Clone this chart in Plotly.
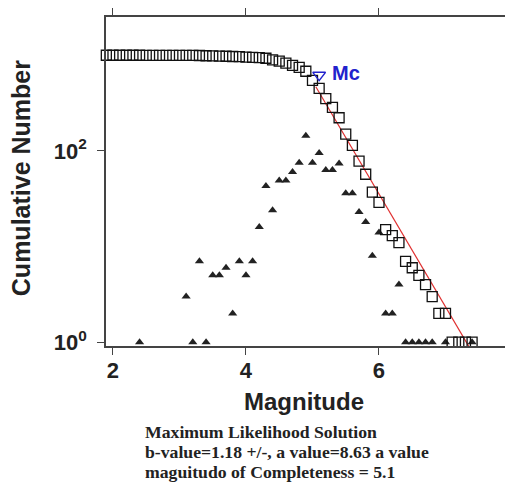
import plotly.graph_objects as go
import math

# Cumulative number of events (open squares) per magnitude bin
cum_mag = [1.9, 2.0, 2.1, 2.2, 2.3, 2.4, 2.5, 2.6, 2.7, 2.8, 2.9, 3.0, 3.1, 3.2, 3.3,
           3.4, 3.5, 3.6, 3.7, 3.8, 3.9, 4.0, 4.1, 4.2, 4.3, 4.4, 4.5, 4.6, 4.7, 4.8,
           4.9, 5.0, 5.1, 5.2, 5.3, 5.4, 5.5, 5.6, 5.7, 5.8, 5.9, 6.0, 6.1, 6.2, 6.3,
           6.4, 6.5, 6.6, 6.7, 6.8, 6.9, 7.0, 7.1, 7.2, 7.3, 7.4]
cum_num = [1000, 1000, 1000, 1000, 1000, 1000, 999, 999, 999, 999, 999, 999, 998, 995, 994,
           988, 986, 981, 976, 970, 968, 958, 952, 945, 930, 895, 870, 828, 785, 748,
           680, 545, 450, 352, 285, 222, 150, 114, 78, 57, 37, 29, 15, 13, 11,
           7, 6, 5, 4, 3, 2, 2, 1, 1, 1, 1]

# Non-cumulative number per bin (filled triangles)
inc_mag = [2.4, 3.1, 3.2, 3.3, 3.4, 3.5, 3.6, 3.7, 3.8, 3.9, 4.0, 4.1, 4.2, 4.3, 4.4,
           4.5, 4.6, 4.7, 4.8, 4.9, 5.0, 5.1, 5.2, 5.3, 5.4, 5.5, 5.6, 5.7, 5.8, 5.9,
           6.0, 6.1, 6.2, 6.3, 6.4, 6.5, 6.6, 6.7, 6.8, 7.0, 7.4]
inc_num = [1, 3, 1, 7, 1, 5, 5, 6, 2, 7, 5, 7, 16, 43, 24,
           49, 49, 60, 75, 144, 75, 95, 63, 63, 74, 36, 36, 23, 18, 8,
           14, 2, 2, 4, 1, 1, 1, 1, 1, 1, 1]

# Maximum likelihood fit
b_value = 1.18
a_value = 8.63
mc = 5.1
mc_marker_num = 620
fit_mag = [5.05, 5.4, 5.7, 6.0, 6.3, 6.6, 6.9, 7.2, 7.37]
fit_num = [10 ** (a_value - b_value * m) for m in fit_mag]

x_ticks = [2, 4, 6]
y_ticks = [1, 100]
y_ticktext = ["10<sup>0</sup>", "10<sup>2</sup>"]

info_lines = ["Maximum Likelihood Solution",
              "b-value=1.18 +/-, a value=8.63 a value",
              "maguitudo of Completeness = 5.1"]

fig = go.Figure()

fig.add_trace(go.Scatter(
    x=fit_mag, y=fit_num, mode="lines",
    line=dict(color="#e03030", width=1.2), cliponaxis=False, showlegend=False))

fig.add_trace(go.Scatter(
    x=inc_mag, y=inc_num, mode="markers",
    marker=dict(symbol="triangle-up", size=8, color="#222222"),
    cliponaxis=False, showlegend=False))

fig.add_trace(go.Scatter(
    x=cum_mag, y=cum_num, mode="markers",
    marker=dict(symbol="square-open", size=10, color="#111111",
                line=dict(width=1.3, color="#111111")),
    cliponaxis=False, showlegend=False))

fig.add_trace(go.Scatter(
    x=[mc], y=[mc_marker_num], mode="markers",
    marker=dict(symbol="triangle-down-open", size=11, color="#2222cc",
                line=dict(width=1.5, color="#2222cc")),
    cliponaxis=False, showlegend=False))

axis_common = dict(showline=True, linecolor="#444444", linewidth=1.5, mirror="ticks",
                   ticks="outside", ticklen=7, tickwidth=1.2, tickcolor="#444444",
                   showgrid=False, zeroline=False, automargin=False,
                   tickfont=dict(family="Arial", size=22, color="#222222", weight="bold"))

fig.update_xaxes(range=[1.895, 7.925], tickvals=x_ticks, ticktext=[str(t) for t in x_ticks],
                 ticklabelstandoff=-3, **axis_common)
fig.update_yaxes(type="log", range=[-0.04, 3.40], tickvals=y_ticks, ticktext=y_ticktext,
                 ticklabelstandoff=6, **axis_common)

annotations = [
    dict(text="<b>Mc</b>", x=mc + 0.17, y=math.log10(mc_marker_num) + 0.02,
         xref="x", yref="y", xanchor="left", yanchor="middle", showarrow=False,
         font=dict(family="Arial", size=20, color="#2222cc")),
    dict(text="<b>Magnitude</b>", x=0.494, y=-0.17, xref="paper", yref="paper",
         xanchor="center", yanchor="middle", showarrow=False,
         font=dict(family="Arial", size=24, color="#222222")),
    dict(text="<b>Cumulative Number</b>", x=-0.212, y=0.51, xref="paper", yref="paper",
         xanchor="center", yanchor="middle", showarrow=False, textangle=-90,
         font=dict(family="Arial", size=25, color="#222222")),
]
for i, line in enumerate(info_lines):
    annotations.append(dict(text="<b>" + line + "</b>", x=0.093, y=-0.261 - 0.061 * i,
                            xref="paper", yref="paper", xanchor="left", yanchor="middle",
                            showarrow=False,
                            font=dict(family="Liberation Serif", size=17.7, color="#222222")))

# The page body adds an 8px offset, so the figure is sized to fill the rest of the window
fig.update_layout(width=505, height=484, margin=dict(l=98, r=6, t=9, b=146),
                  paper_bgcolor="white", plot_bgcolor="white", annotations=annotations)

fig.write_html("out.html")
